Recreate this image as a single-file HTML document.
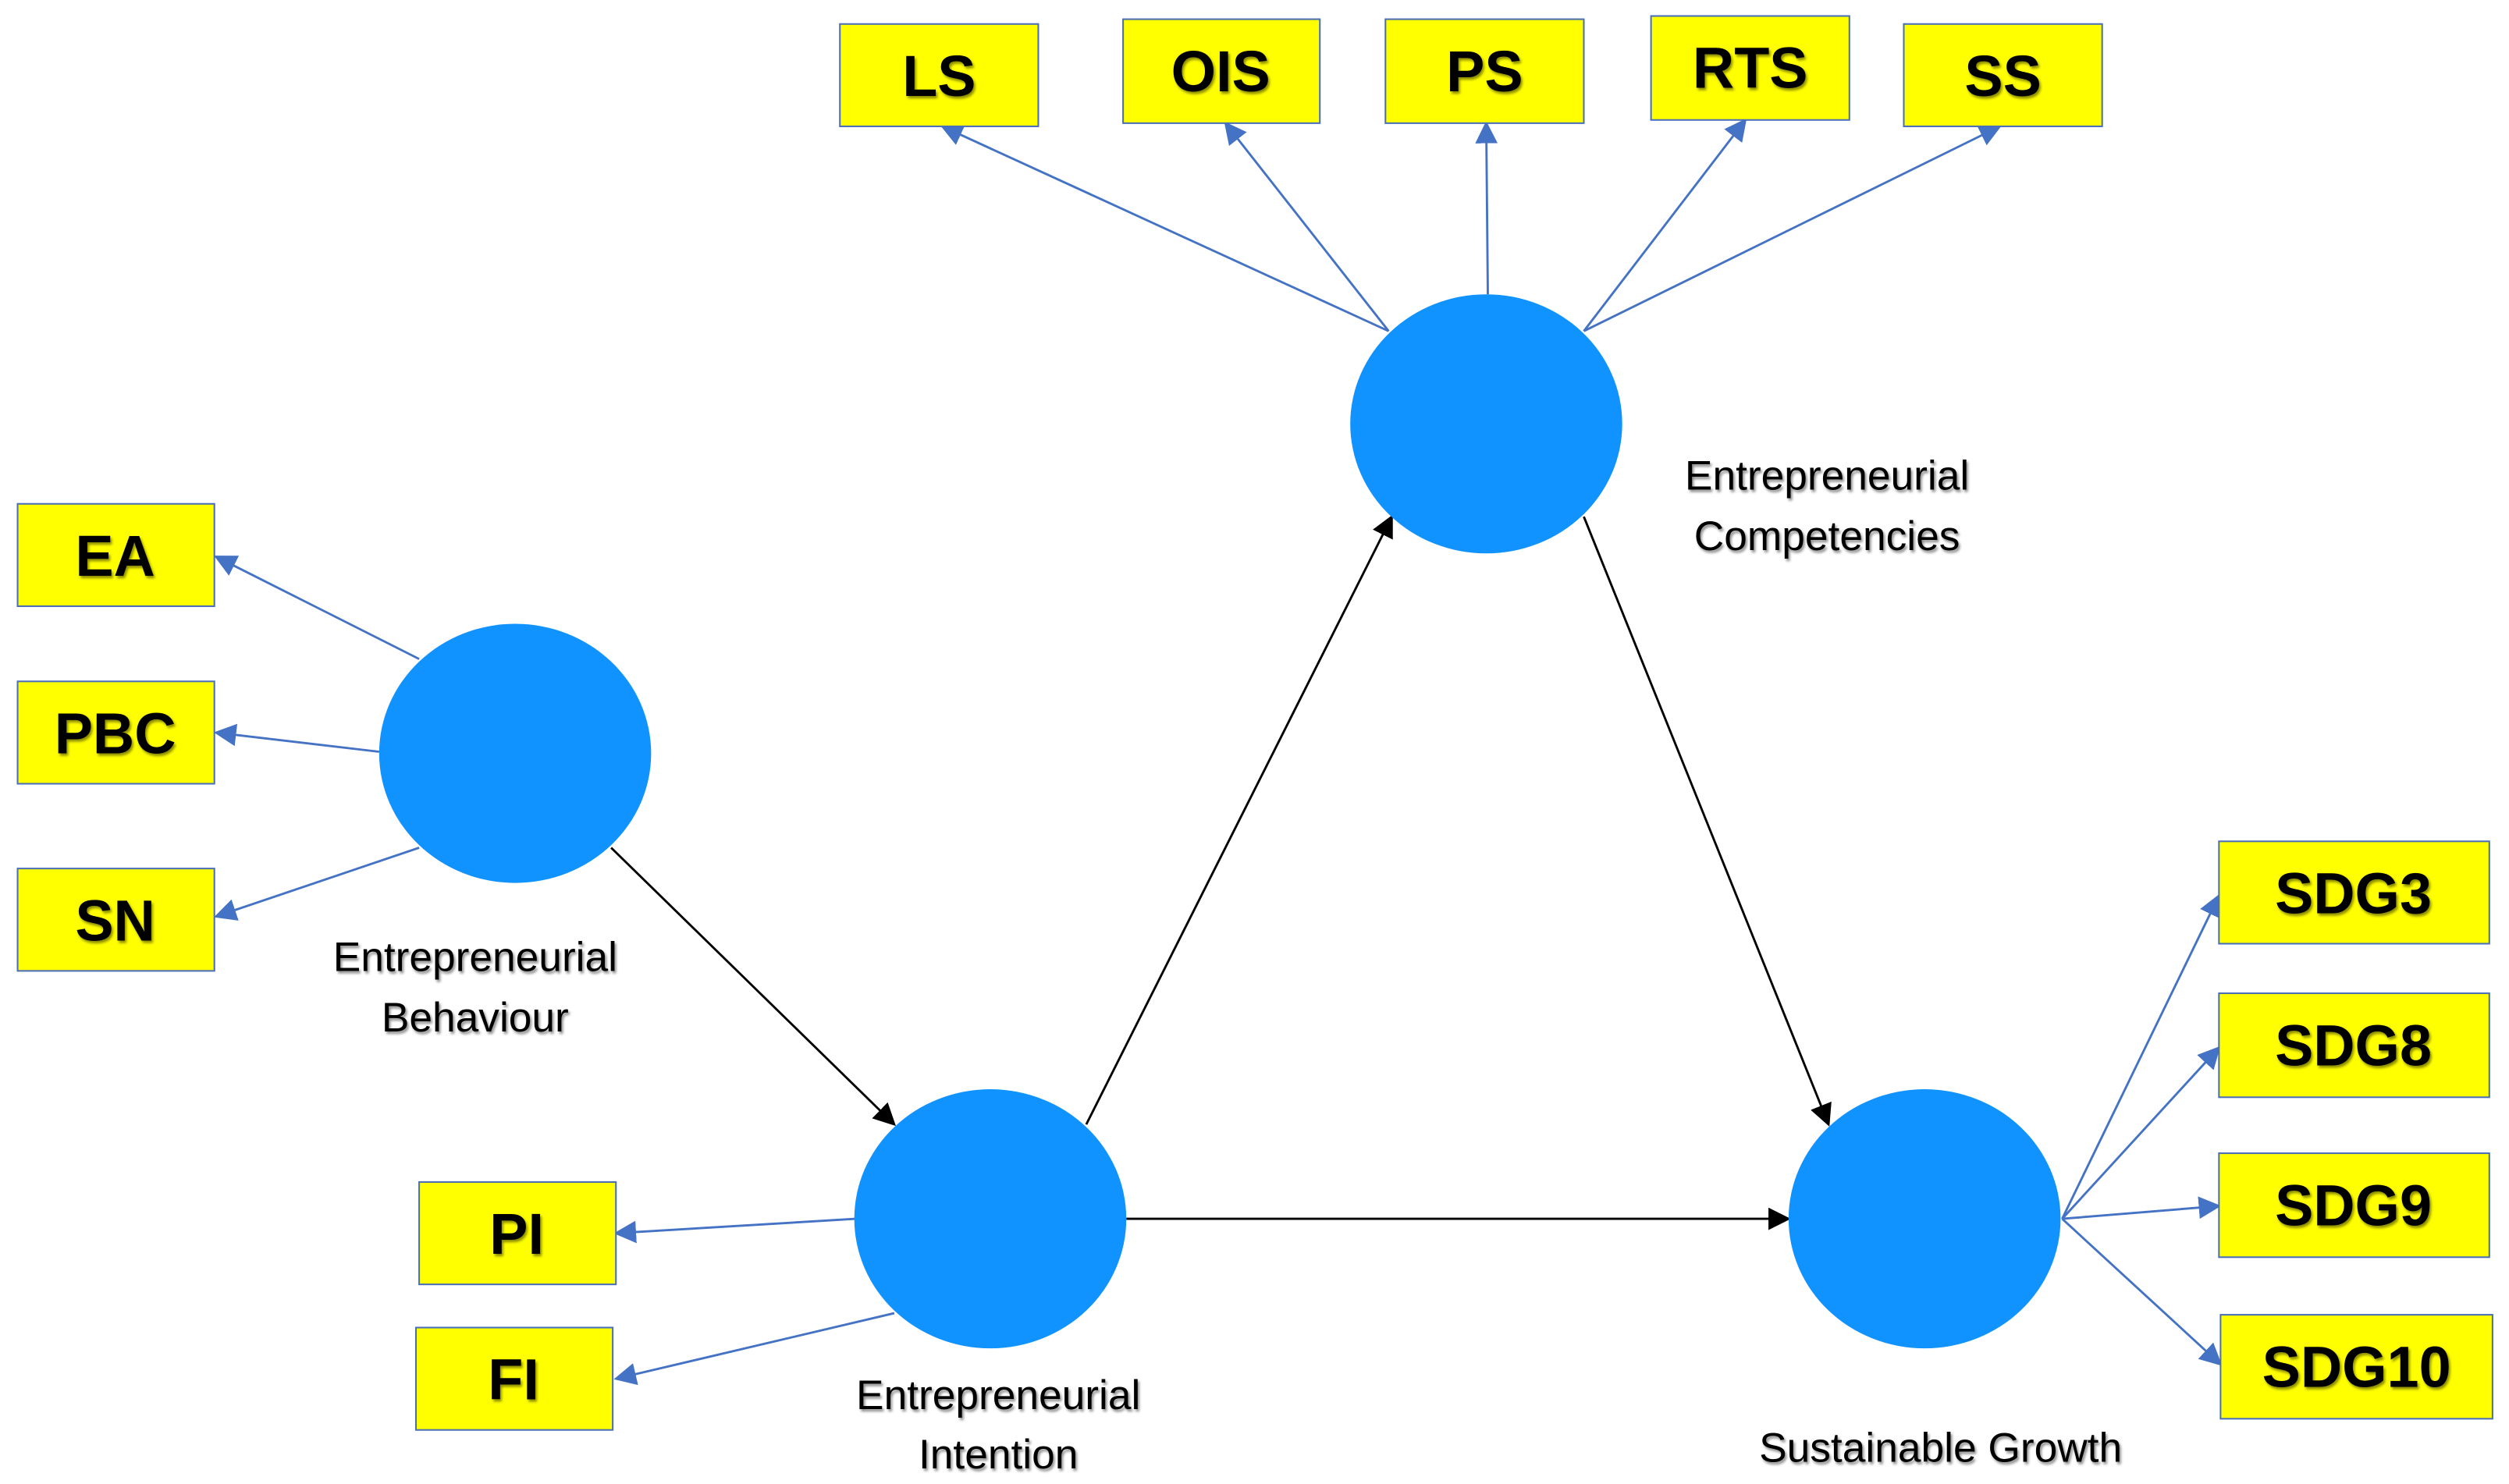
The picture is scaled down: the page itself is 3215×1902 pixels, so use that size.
<!DOCTYPE html>
<html><head><meta charset="utf-8"><style>
html,body{margin:0;padding:0;background:#fff;}
svg{display:block;}
.b{fill:#ffff00;stroke:#4a6fb8;stroke-width:1;}
.t{font-family:"Liberation Sans Narrow","Liberation Sans",sans-serif;font-weight:bold;font-size:36px;fill:#000;text-anchor:middle;}
.l{font-family:"Liberation Sans Narrow","Liberation Sans",sans-serif;font-size:26px;fill:#000;text-anchor:middle;}
.bl{stroke:#4472c4;stroke-width:1.4;fill:none;}
.k{stroke:#000;stroke-width:1.4;fill:none;}
</style></head><body>
<svg width="3215" height="1902" viewBox="0 0 1568.3 927.8" xmlns="http://www.w3.org/2000/svg">
<defs>
<marker id="ab" viewBox="0 0 10 10" refX="9" refY="5" markerWidth="14" markerHeight="14" markerUnits="userSpaceOnUse" orient="auto"><path d="M0,0 L10,5 L0,10 z" fill="#4472c4"/></marker>
<marker id="ak" viewBox="0 0 10 10" refX="9" refY="5" markerWidth="14" markerHeight="14" markerUnits="userSpaceOnUse" orient="auto"><path d="M0,0 L10,5 L0,10 z" fill="#000"/></marker>
<filter id="sh"><feDropShadow dx="1" dy="1.5" stdDeviation="0.8" flood-color="#000" flood-opacity="0.45"/></filter>
</defs>

<!-- blue connectors -->
<g class="bl" marker-end="url(#ab)">
<line x1="262" y1="412" x2="135" y2="348"/>
<line x1="237" y1="470" x2="135" y2="458"/>
<line x1="262" y1="530" x2="135" y2="573"/>
<line x1="535" y1="762" x2="385" y2="771"/>
<line x1="559" y1="821" x2="385" y2="862"/>
<line x1="868" y1="207" x2="589" y2="79"/>
<line x1="868" y1="207" x2="766" y2="77"/>
<line x1="930" y1="184" x2="929" y2="77"/>
<line x1="990" y1="207" x2="1091" y2="75"/>
<line x1="990" y1="207" x2="1250" y2="79"/>
<line x1="1289" y1="762" x2="1387" y2="560"/>
<line x1="1289" y1="762" x2="1387" y2="655"/>
<line x1="1289" y1="762" x2="1387" y2="754"/>
<line x1="1289" y1="762" x2="1388" y2="853"/>
</g>
<!-- black connectors -->
<g class="k" marker-end="url(#ak)">
<line x1="382" y1="530" x2="559" y2="703"/>
<line x1="679" y1="703" x2="870" y2="323"/>
<line x1="990" y1="323" x2="1143" y2="703"/>
<line x1="704" y1="762" x2="1118" y2="762"/>
</g>

<!-- circles -->
<g fill="#1193ff">
<ellipse cx="322" cy="471" rx="85" ry="81"/>
<ellipse cx="929" cy="265" rx="85" ry="81"/>
<ellipse cx="619" cy="762" rx="85" ry="81"/>
<ellipse cx="1203" cy="762" rx="85" ry="81"/>
</g>

<!-- boxes -->
<rect class="b" x="525" y="15" width="124" height="64"/>
<rect class="b" x="702" y="12" width="123" height="65"/>
<rect class="b" x="866" y="12" width="124" height="65"/>
<rect class="b" x="1032" y="10" width="124" height="65"/>
<rect class="b" x="1190" y="15" width="124" height="64"/>
<rect class="b" x="11" y="315" width="123" height="64"/>
<rect class="b" x="11" y="426" width="123" height="64"/>
<rect class="b" x="11" y="543" width="123" height="64"/>
<rect class="b" x="262" y="739" width="123" height="64"/>
<rect class="b" x="260" y="830" width="123" height="64"/>
<rect class="b" x="1387" y="526" width="169" height="64"/>
<rect class="b" x="1387" y="621" width="169" height="65"/>
<rect class="b" x="1387" y="721" width="169" height="65"/>
<rect class="b" x="1388" y="822" width="170" height="65"/>

<g class="t" filter="url(#sh)">
<text x="587" y="60">LS</text>
<text x="763" y="57">OIS</text>
<text x="928" y="57">PS</text>
<text x="1094" y="55">RTS</text>
<text x="1252" y="60">SS</text>
<text x="72" y="360">EA</text>
<text x="72" y="471">PBC</text>
<text x="72" y="588">SN</text>
<text x="323" y="784">PI</text>
<text x="321" y="875">FI</text>
<text x="1471" y="571">SDG3</text>
<text x="1471" y="666">SDG8</text>
<text x="1471" y="766">SDG9</text>
<text x="1473" y="867">SDG10</text>
</g>

<g class="l" filter="url(#sh)">
<text x="297" y="607">Entrepreneurial</text>
<text x="297" y="645">Behaviour</text>
<text x="1142" y="306">Entrepreneurial</text>
<text x="1142" y="344">Competencies</text>
<text x="624" y="881">Entrepreneurial</text>
<text x="624" y="918">Intention</text>
<text x="1213" y="914">Sustainable Growth</text>
</g>
</svg>
</body></html>
